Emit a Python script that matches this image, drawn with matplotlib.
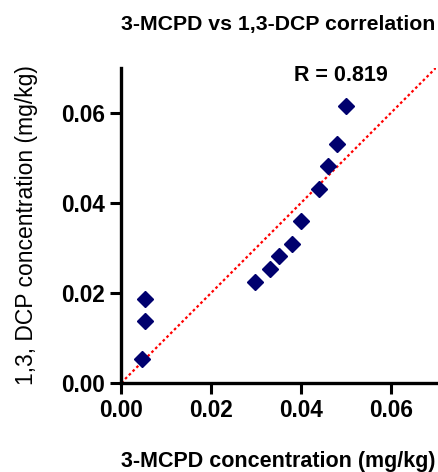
import numpy as np
import matplotlib
matplotlib.use("Agg")
import matplotlib.pyplot as plt

# 3-MCPD vs 1,3-DCP (mg/kg)
mcpd = [0.0047, 0.0052, 0.0052, 0.0297, 0.0330, 0.0350, 0.0380, 0.0400, 0.0440, 0.0460, 0.0480, 0.0500]
dcp = [0.0053, 0.0138, 0.0186, 0.0223, 0.0253, 0.0281, 0.0309, 0.0360, 0.0430, 0.0483, 0.0531, 0.0616]
ticks = [0.00, 0.02, 0.04, 0.06]
r_text = "R = 0.819"

plt.rcParams["font.family"] = ["Liberation Sans", "DejaVu Sans"]

fig = plt.figure(figsize=(4.38, 4.72), dpi=100)
ax = fig.add_axes([0.277, 0.189, 0.718, 0.667])

ax.plot([0, 0.07], [0, 0.07], color="red", linestyle=(0, (1.2, 1.2)), linewidth=1.6, zorder=1)
ax.plot(mcpd, dcp, linestyle="none", marker="D", markersize=8, color="#00006e", zorder=3)

ax.set_xlim(0, 0.07)
ax.set_ylim(0, 0.07)
ax.set_xticks(ticks)
ax.set_yticks(ticks)
ax.set_xticklabels([f"{t:.2f}" for t in ticks], fontsize=16.3, fontweight="bold")
ax.set_yticklabels([f"{t:.2f}" for t in ticks], fontsize=16.3, fontweight="bold")

for side in ["top", "right"]:
    ax.spines[side].set_visible(False)
for side in ["left", "bottom"]:
    ax.spines[side].set_linewidth(2.4)
ax.tick_params(width=2.2, length=8, direction="out")
ax.tick_params(axis="x", pad=4)
ax.tick_params(axis="y", pad=3.5)

ax.set_title("3-MCPD vs 1,3-DCP correlation", fontsize=15.3, fontweight="bold", pad=27.5)
ax.set_xlabel("3-MCPD concentration (mg/kg)", fontsize=15.5, fontweight="bold", labelpad=20.5)
ax.set_ylabel("1,3, DCP concentration (mg/kg)", fontsize=16.5, labelpad=17)

ax.text(0.0384, 0.0683, r_text, fontsize=15.5, fontweight="bold", va="center", ha="left")

fig.savefig("out.png", dpi=100)
